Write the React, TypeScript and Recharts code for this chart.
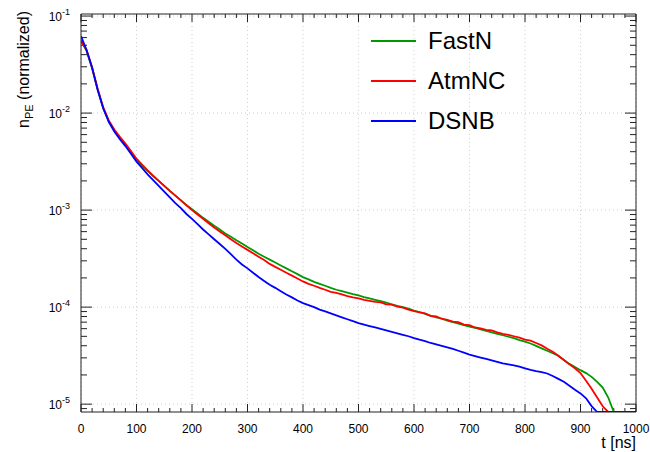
import { LineChart, Line, XAxis, YAxis, CartesianGrid, Legend, ReferenceLine } from 'recharts'

// bin start times [ns]
const timeNs = [
  0, 10, 20, 30, 40, 50, 60, 70, 80, 90,
  100, 110, 120, 130, 140, 150, 160, 170, 180, 190,
  200, 210, 220, 230, 240, 250, 260, 270, 280, 290,
  300, 310, 320, 330, 340, 350, 360, 370, 380, 390,
  400, 410, 420, 430, 440, 450, 460, 470, 480, 490,
  500, 510, 520, 530, 540, 550, 560, 570, 580, 590,
  600, 610, 620, 630, 640, 650, 660, 670, 680, 690,
  700, 710, 720, 730, 740, 750, 760, 770, 780, 790,
  800, 810, 820, 830, 840, 850, 860, 870, 880, 890,
  900, 910, 920, 930, 940, 950, 960, 970, 980, 990,
  1000,
]

// normalized n_PE per bin (0 = empty bin)
const fastN = [
  5.62e-2, 4.37e-2, 2.88e-2, 1.74e-2, 1.12e-2, 8.22e-3, 6.61e-3, 5.56e-3, 4.73e-3, 3.94e-3,
  3.31e-3, 2.88e-3, 2.54e-3, 2.24e-3, 2.0e-3, 1.78e-3, 1.58e-3, 1.41e-3, 1.26e-3, 1.13e-3,
  1.02e-3, 9.23e-4, 8.32e-4, 7.59e-4, 6.92e-4, 6.31e-4, 5.75e-4, 5.31e-4, 4.9e-4, 4.52e-4,
  4.17e-4, 3.85e-4, 3.55e-4, 3.31e-4, 3.09e-4, 2.88e-4, 2.69e-4, 2.51e-4, 2.34e-4, 2.19e-4,
  2.04e-4, 1.93e-4, 1.82e-4, 1.74e-4, 1.66e-4, 1.58e-4, 1.51e-4, 1.46e-4, 1.41e-4, 1.36e-4,
  1.32e-4, 1.27e-4, 1.23e-4, 1.19e-4, 1.15e-4, 1.11e-4, 1.07e-4, 1.03e-4, 1.0e-4, 9.66e-5,
  9.23e-5, 8.91e-5, 8.51e-5, 8.13e-5, 7.85e-5, 7.59e-5, 7.24e-5, 7.0e-5, 6.76e-5, 6.53e-5,
  6.31e-5, 6.1e-5, 5.89e-5, 5.69e-5, 5.5e-5, 5.31e-5, 5.13e-5, 4.95e-5, 4.79e-5, 4.57e-5,
  4.42e-5, 4.22e-5, 3.98e-5, 3.76e-5, 3.55e-5, 3.35e-5, 3.16e-5, 2.85e-5, 2.6e-5, 2.41e-5,
  2.24e-5, 2.09e-5, 1.91e-5, 1.7e-5, 1.48e-5, 1.17e-5, 0, 0, 0, 0,
  0,
]

const atmNC = [
  5.5e-2, 4.47e-2, 2.95e-2, 1.78e-2, 1.15e-2, 8.41e-3, 6.76e-3, 5.69e-3, 4.84e-3, 4.07e-3,
  3.39e-3, 2.95e-3, 2.57e-3, 2.26e-3, 2.0e-3, 1.78e-3, 1.58e-3, 1.41e-3, 1.26e-3, 1.12e-3,
  1.0e-3, 9.02e-4, 8.13e-4, 7.33e-4, 6.61e-4, 6.03e-4, 5.5e-4, 5.01e-4, 4.57e-4, 4.22e-4,
  3.89e-4, 3.59e-4, 3.31e-4, 3.06e-4, 2.79e-4, 2.6e-4, 2.43e-4, 2.26e-4, 2.11e-4, 1.97e-4,
  1.84e-4, 1.74e-4, 1.66e-4, 1.58e-4, 1.51e-4, 1.44e-4, 1.4e-4, 1.35e-4, 1.3e-4, 1.26e-4,
  1.23e-4, 1.19e-4, 1.16e-4, 1.13e-4, 1.12e-4, 1.07e-4, 1.06e-4, 1.01e-4, 9.89e-5, 9.44e-5,
  9.12e-5, 8.81e-5, 8.61e-5, 8.13e-5, 8.04e-5, 7.59e-5, 7.41e-5, 7.08e-5, 7.0e-5, 6.61e-5,
  6.53e-5, 6.17e-5, 6.03e-5, 5.82e-5, 5.75e-5, 5.5e-5, 5.31e-5, 5.19e-5, 5.01e-5, 4.84e-5,
  4.62e-5, 4.52e-5, 4.27e-5, 4.03e-5, 3.72e-5, 3.47e-5, 3.16e-5, 2.85e-5, 2.57e-5, 2.34e-5,
  2.09e-5, 1.74e-5, 1.44e-5, 1.17e-5, 9.5e-6, 0, 0, 0, 0, 0,
  0,
]

const dsnb = [
  6.2e-2, 4.47e-2, 2.95e-2, 1.74e-2, 1.12e-2, 8.13e-3, 6.46e-3, 5.37e-3, 4.57e-3, 3.8e-3,
  3.16e-3, 2.72e-3, 2.34e-3, 2.04e-3, 1.78e-3, 1.55e-3, 1.35e-3, 1.18e-3, 1.05e-3, 9.12e-4,
  8.13e-4, 7.16e-4, 6.31e-4, 5.62e-4, 5.01e-4, 4.47e-4, 3.98e-4, 3.51e-4, 3.09e-4, 2.75e-4,
  2.51e-4, 2.26e-4, 2.04e-4, 1.86e-4, 1.7e-4, 1.58e-4, 1.46e-4, 1.35e-4, 1.26e-4, 1.17e-4,
  1.1e-4, 1.05e-4, 1.0e-4, 9.44e-5, 9.02e-5, 8.61e-5, 8.22e-5, 7.85e-5, 7.5e-5, 7.16e-5,
  6.84e-5, 6.61e-5, 6.38e-5, 6.17e-5, 5.96e-5, 5.75e-5, 5.56e-5, 5.37e-5, 5.19e-5, 5.01e-5,
  4.79e-5, 4.62e-5, 4.47e-5, 4.27e-5, 4.12e-5, 3.98e-5, 3.85e-5, 3.72e-5, 3.55e-5, 3.39e-5,
  3.24e-5, 3.13e-5, 3.02e-5, 2.92e-5, 2.82e-5, 2.72e-5, 2.63e-5, 2.57e-5, 2.51e-5, 2.43e-5,
  2.34e-5, 2.26e-5, 2.19e-5, 2.14e-5, 2.07e-5, 1.95e-5, 1.82e-5, 1.7e-5, 1.55e-5, 1.41e-5,
  1.29e-5, 1.15e-5, 9.55e-6, 0, 0, 0, 0, 0, 0, 0,
  0,
]

const xTicks = [
  0, 20, 40, 60, 80, 100, 120, 140, 160, 180, 200, 220, 240, 260, 280, 300, 320, 340, 360, 380,
  400, 420, 440, 460, 480, 500, 520, 540, 560, 580, 600, 620, 640, 660, 680, 700, 720, 740, 760, 780,
  800, 820, 840, 860, 880, 900, 920, 940, 960, 980, 1000,
]
const xMajor = [0, 100, 200, 300, 400, 500, 600, 700, 800, 900, 1000]

const yMajor = [1e-5, 1e-4, 1e-3, 1e-2, 1e-1]
const yTicks = [
  9e-6, 1e-5, 2e-5, 3e-5, 4e-5, 5e-5, 6e-5, 7e-5, 8e-5, 9e-5,
  1e-4, 2e-4, 3e-4, 4e-4, 5e-4, 6e-4, 7e-4, 8e-4, 9e-4,
  1e-3, 2e-3, 3e-3, 4e-3, 5e-3, 6e-3, 7e-3, 8e-3, 9e-3,
  1e-2, 2e-2, 3e-2, 4e-2, 5e-2, 6e-2, 7e-2, 8e-2, 9e-2, 1e-1,
]

const X_MAX = 1000
const Y_MIN = 8.3e-6
const Y_MAX = 0.105
const FONT = '"Liberation Sans", Arial, Helvetica, sans-serif'

const seriesInfo = [
  { key: 'fastN', name: 'FastN', color: '#009a00' },
  { key: 'atmNC', name: 'AtmNC', color: '#ff0000' },
  { key: 'dsnb', name: 'DSNB', color: '#0000ff' },
]

// empty bins sit on the frame bottom, like ROOT does on a log pad
const onFloor = (v: number) => (v > 0 ? v : Y_MIN)

const data = timeNs.map((t, i) => ({
  t,
  fastN: onFloor(fastN[i]),
  atmNC: onFloor(atmNC[i]),
  dsnb: onFloor(dsnb[i]),
}))

function XLabel(props: any) {
  const { x, y, payload } = props
  return (
    <text x={x} y={y + 21} textAnchor="middle" fontSize={12} fill="#000" fontFamily={FONT}>
      {payload.value}
    </text>
  )
}

function YLabel(props: any) {
  const { x, y, payload } = props
  const exp = Math.round(Math.log10(payload.value))
  return (
    <text x={x - 11} y={y + 5} textAnchor="end" fontSize={12} fill="#000" fontFamily={FONT}>
      10<tspan dy={-6} fontSize={9}>{exp}</tspan>
    </text>
  )
}

// ROOT style ticks: drawn inward on both the bottom and the top edge
function XTickMarks(props: any) {
  const { x1, y1, y2, len } = props
  const bottom = Math.max(y1, y2)
  const top = Math.min(y1, y2)
  return <path d={`M${x1},${bottom}v${-len}M${x1},${top}v${len}`} stroke="#222" strokeWidth={1} fill="none" />
}

function YTickMarks(props: any) {
  const { x1, x2, y1, len } = props
  const left = Math.min(x1, x2)
  const right = Math.max(x1, x2)
  return <path d={`M${left},${y1}h${len}M${right},${y1}h${-len}`} stroke="#222" strokeWidth={1} fill="none" />
}

function XTitle() {
  return (
    <text x={636} y={448} textAnchor="end" fontSize={16} fill="#000" fontFamily={FONT}>
      t [ns]
    </text>
  )
}

function YTitle() {
  return (
    <text
      transform="rotate(-90 29 11)"
      x={29}
      y={11}
      textAnchor="end"
      fontSize={16}
      fill="#000"
      fontFamily={FONT}
    >
      n<tspan fontSize={11} dy={4}>PE</tspan>
      <tspan dy={-4}>{' (normalized)'}</tspan>
    </text>
  )
}

function LegendBox() {
  return (
    <div style={{ fontFamily: FONT }}>
      {seriesInfo.map(s => (
        <div key={s.key} style={{ display: 'flex', alignItems: 'center', height: 40 }}>
          <span style={{ width: 45, height: 0, borderTop: `2px solid ${s.color}`, marginRight: 12 }} />
          <span style={{ fontSize: 24, lineHeight: '24px', color: '#000' }}>{s.name}</span>
        </div>
      ))}
    </div>
  )
}

export default function App() {
  return (
    <div style={{ position: 'absolute', left: 0, top: 0, width: 650, height: 452, background: '#fff' }}>
      <LineChart width={650} height={452} data={data} margin={{ top: 14, right: 14, bottom: 0, left: 0 }}>
        <CartesianGrid
          xAxisId="x"
          yAxisId="y"
          verticalValues={xMajor}
          horizontalValues={yMajor}
          stroke="#d0d0d0"
          strokeDasharray="1 3"
        />
        <XAxis
          xAxisId="x"
          dataKey="t"
          type="number"
          domain={[0, X_MAX]}
          allowDataOverflow
          ticks={xMajor}
          interval={0}
          tickSize={0}
          tickMargin={0}
          tickLine={false}
          tick={<XLabel />}
          height={40}
          axisLine={{ stroke: '#222' }}
          label={<XTitle />}
        />
        <YAxis
          yAxisId="y"
          scale="log"
          type="number"
          domain={[Y_MIN, Y_MAX]}
          allowDataOverflow
          ticks={yMajor}
          interval={0}
          tickSize={0}
          tickMargin={0}
          tickLine={false}
          tick={<YLabel />}
          width={81}
          axisLine={{ stroke: '#222' }}
          label={<YTitle />}
        />
        {/* top and right edges of the frame */}
        <ReferenceLine xAxisId="x" yAxisId="y" x={X_MAX} stroke="#222" strokeWidth={1} />
        <ReferenceLine xAxisId="x" yAxisId="y" y={Y_MAX} stroke="#222" strokeWidth={1} />
        {xTicks.map(v => (
          <ReferenceLine
            key={`xt${v}`}
            xAxisId="x"
            yAxisId="y"
            x={v}
            shape={<XTickMarks len={xMajor.includes(v) ? 8 : 4} />}
          />
        ))}
        {yTicks.map(v => (
          <ReferenceLine
            key={`yt${v}`}
            xAxisId="x"
            yAxisId="y"
            y={v}
            shape={<YTickMarks len={yMajor.includes(v) ? 11 : 6} />}
          />
        ))}
        <Legend
          layout="vertical"
          align="center"
          verticalAlign="middle"
          wrapperStyle={{ left: 371, top: 21, width: 'auto' }}
          content={() => <LegendBox />}
        />
        {seriesInfo.map(s => (
          <Line
            key={s.key}
            xAxisId="x"
            yAxisId="y"
            type="linear"
            dataKey={s.key}
            name={s.name}
            stroke={s.color}
            strokeWidth={1.8}
            dot={false}
            isAnimationActive={false}
          />
        ))}
      </LineChart>
    </div>
  )
}
